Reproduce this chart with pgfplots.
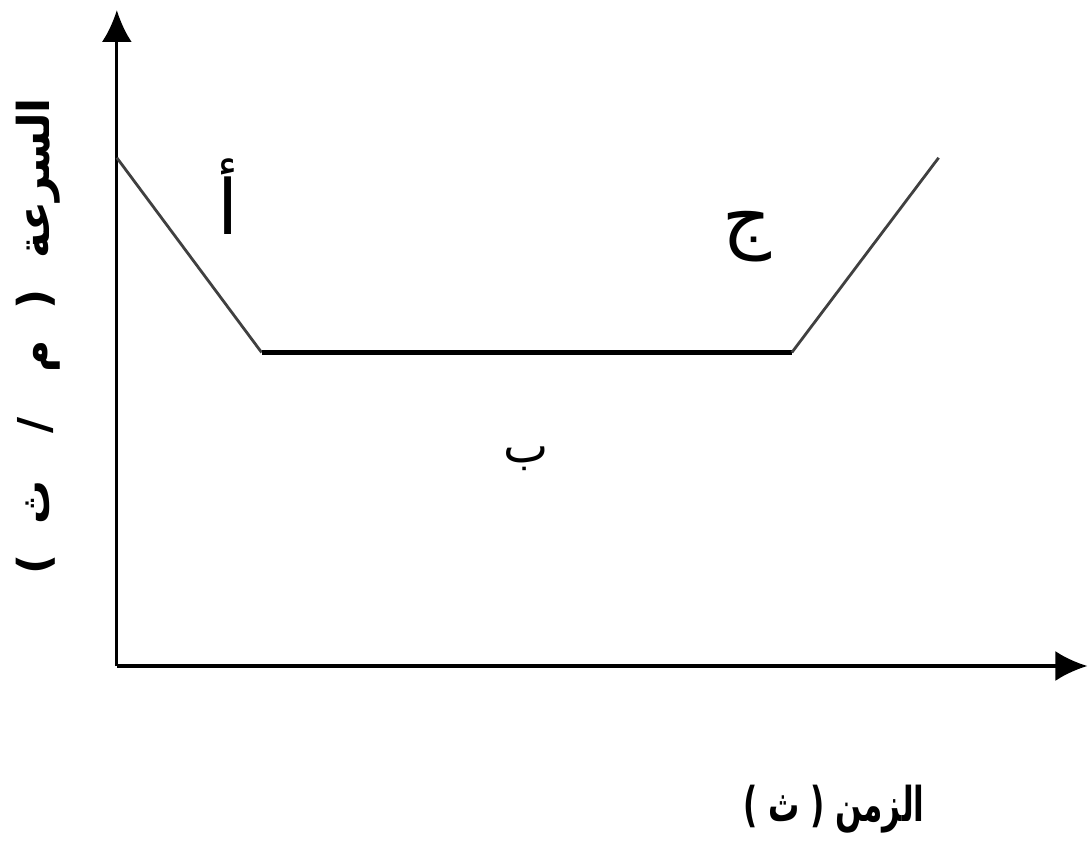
\documentclass[border=0pt]{standalone}
\usepackage{pgfplots}
\pgfplotsset{compat=1.18}
\usetikzlibrary{arrows.meta}
\usepackage{fontspec}
\newfontfamily\arabicfont[Script=Arabic]{DejaVu Sans}
\TeXXeTstate=1
\begin{document}
\begin{tikzpicture}
\begin{axis}[
  x=0.5pt, y=0.5pt,
  xmin=0, xmax=972, ymin=0, ymax=657,
  axis lines=left,
  axis line style={line width=1.6pt, -{Latex[length=16pt,width=15pt]}},
  xtick=\empty, ytick=\empty,
  clip=false,
]
\addplot[line width=1.4pt, color=black!75] coordinates {(0,509) (145,314)};
\addplot[line width=2.5pt, color=black] coordinates {(145,314) (676,314)};
\addplot[line width=1.4pt, color=black!75] coordinates {(676,314) (823,509)};
\node[font=\arabicfont\fontsize{38}{44}\selectfont] at (axis cs:111,470) {\beginR أ\endR};
\node[font=\arabicfont\fontsize{38}{44}\selectfont] at (axis cs:631,430) {\beginR ج\endR};
\node[font=\arabicfont\fontsize{24}{30}\selectfont] at (axis cs:410,208) {\beginR ب\endR};
\node[xscale=0.65, font=\arabicfont\bfseries\fontsize{24}{30}\selectfont] at (axis cs:718,-143) {\beginR الزمن ( ث )\endR};
\node[rotate=90, font=\arabicfont\bfseries\fontsize{22}{28}\selectfont] at (axis cs:-79,330) {\beginR السرعة \ (\ \ م \ \ / \ \ ث \ )\endR};
\end{axis}
\path[use as bounding box] (-58.5pt,-91pt) rectangle (486pt,333.5pt);
\end{tikzpicture}
\end{document}
